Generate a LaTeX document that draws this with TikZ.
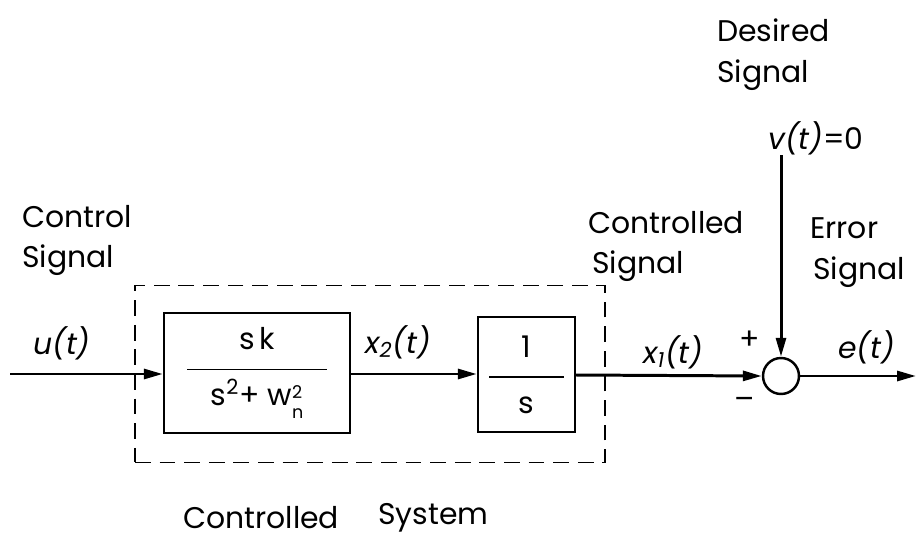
\documentclass[tikz,border=0pt]{standalone}
\usepackage{fontspec}
\setmainfont{Poppins}
\usetikzlibrary{arrows.meta}
\newcommand{\wscr}{\raisebox{-0.45em}{\fontsize{10}{10}\selectfont\shortstack[l]{2\\[3pt]n}}}
\begin{document}
\begin{tikzpicture}[x=0.02cm,y=-0.02cm,
  lbl/.style={anchor=west,inner sep=0pt,font=\fontsize{17}{20}\selectfont},
  sig/.style={anchor=west,inner sep=0pt,font=\fontsize{17}{20}\selectfont\itshape},
  blk/.style={draw,line width=1.4pt,inner sep=0pt,align=center,font=\fontsize{17}{20}\selectfont},
  wire/.style={line width=1.7pt,-{Triangle[length=0.38cm,width=0.2cm]}},
  plain/.style={line width=1.6pt}]
\useasboundingbox (0,0) rectangle (916,541);
% dashed system box
\node[draw,dashed,line width=1.1pt,dash pattern=on 9pt off 5pt,minimum width=9.4cm,minimum height=3.54cm,inner sep=0pt] (sys) at (370,374) {};
% blocks
\node[blk,minimum width=3.72cm,minimum height=2.4cm] (b1) at (257,373)
  {s\,k\\[-4pt]\rule[4pt]{2.8cm}{1pt}\\[-4pt]s\textsuperscript{2}+ w\wscr};
\node[blk,minimum width=1.94cm,minimum height=2.3cm] (b2) at (526.5,374.5)
  {1\\[-4pt]\rule[4pt]{1.5cm}{1pt}\\[-4pt]s};
% summing junction
\node[draw,circle,line width=1.4pt,minimum size=0.72cm,inner sep=0pt] (sum) at (781,376) {};
% coordinates
\coordinate (in) at (10,374);
\coordinate (out) at (916,376);
\coordinate (vin) at (781,155);
% connectors
\draw[wire] (in) -- (b1.west |- in);
\draw[wire] (b1.east |- 0,374) -- (b2.west |- 0,374);
\draw[wire] (b2.east |- 0,375) -- (sum.west);
\draw[wire] (vin) -- (sum.north);
\draw[wire] (sum.east) -- (out);
% labels
\node[lbl] (t1) at (717,30) {Desired};
\node[lbl] (t2) at (717,75) {Signal};
\node[sig] (t3) at (768,138) {v(t)\upshape=0};
\node[lbl] (t4) at (22,217) {Control};
\node[lbl] (t5) at (22,260) {Signal};
\node[lbl] (t6) at (588,223) {Controlled};
\node[lbl] (t7) at (592,266) {Signal};
\node[lbl] (t8) at (810,228) {Error};
\node[lbl] (t9) at (813,272) {Signal};
\node[sig] (s1) at (33,343) {u(t)};
\node[sig] (s2) at (365,342) {x\textsubscript{2}(t)};
\node[sig] (s3) at (643,352) {x\textsubscript{1}(t)};
\node[lbl,anchor=center] (p1) at (750,340) {+};
\node[lbl,anchor=center] (m1) at (745,403) {\textendash};
\node[sig] (s4) at (838,347) {e(t)};
\node[lbl] (t10) at (183,518) {Controlled};
\node[lbl] (t11) at (378,518) {System};
\end{tikzpicture}
\end{document}
